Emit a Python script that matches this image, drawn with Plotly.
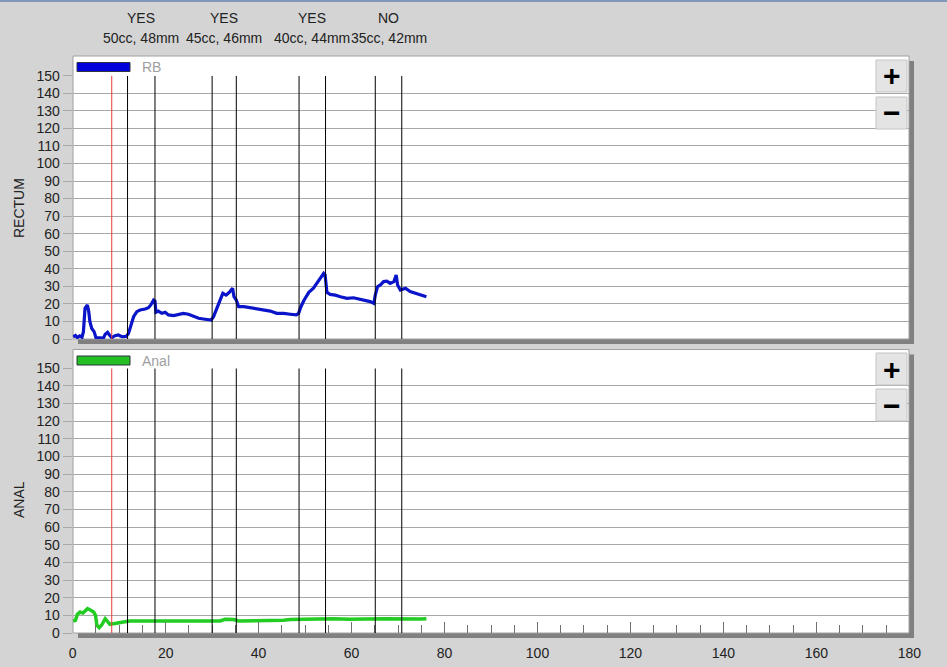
import plotly.graph_objects as go

W, H = 947, 667

# ---------------- data ----------------
rb_time = [0.1, 0.6, 1.0, 1.5, 2.0, 2.3, 2.65, 3.16, 3.45, 3.7, 4.1, 4.6, 5.0, 5.9, 6.6, 7.0, 7.5, 7.9,
           8.4, 9.1, 9.8, 10.6, 11.5, 12.0, 12.5, 13.1, 13.8, 14.5, 15.6, 16.3, 16.8, 17.4, 17.7, 17.9,
           18.4, 19.2, 19.9, 20.6, 21.7, 22.8, 23.8, 24.9, 26.0, 27.1, 28.1, 29.2, 29.8, 30.3, 30.9,
           31.6, 32.3, 33.0, 33.7, 34.4, 34.7, 35.2, 35.7, 36.8, 38.2, 39.6, 41.1, 42.5, 43.9, 45.4,
           46.8, 48.1, 48.6, 49.1, 49.8, 50.8, 51.8, 52.5, 53.3, 54.0, 54.3, 54.7, 55.4, 56.5, 57.6,
           59.0, 60.4, 61.9, 63.0, 64.0, 64.8, 65.1, 65.6, 66.2, 66.9, 67.6, 68.3, 69.1, 69.6, 69.9,
           70.5, 71.6, 72.6, 73.7, 74.8, 76.1]
rb_value = [1.3, 2.0, 0.8, 1.8, 1.0, 4.0, 17.5, 19.4, 15.6, 9.9, 6.0, 4.2, 0.8, 0.4, 0.5, 2.7, 3.8, 2.3,
            0.8, 1.9, 2.3, 1.3, 1.5, 3.2, 8.0, 12.7, 15.6, 16.5, 17.1, 17.8, 19.4, 22.2, 21.6, 15.2,
            15.9, 14.6, 15.2, 13.7, 13.3, 14.1, 14.6, 14.1, 12.7, 11.8, 11.4, 10.8, 10.8, 12.7, 16.5,
            21.3, 26.0, 25.0, 26.6, 28.9, 24.1, 22.2, 18.4, 18.4, 17.8, 17.1, 16.5, 15.9, 14.6, 14.6,
            14.1, 13.7, 14.6, 18.4, 22.2, 26.6, 28.9, 31.7, 34.9, 37.4, 36.5, 26.6, 25.4, 25.0, 24.1,
            23.2, 23.5, 22.6, 21.6, 21.3, 20.3, 25.0, 29.8, 30.8, 32.7, 33.0, 31.7, 32.7, 36.5, 30.8,
            27.9, 28.9, 27.0, 26.0, 25.0, 24.1]

anal_time = [0.1, 0.6, 1.0, 1.6, 2.2, 2.7, 3.2, 3.7, 4.5, 4.9, 5.2, 5.7, 6.2, 7.0, 7.5, 8.0, 8.8, 9.8,
             10.9, 12.3, 16.7, 23.8, 31.7, 32.8, 34.6, 35.7, 41.8, 45.4, 46.8, 50.4, 56.1, 59.7, 66.9,
             74.8, 76.1]
anal_value = [6.8, 7.2, 10.6, 11.9, 11.3, 12.9, 13.8, 13.2, 11.9, 10.0, 4.4, 3.0, 4.4, 8.1, 6.2, 4.9,
              5.3, 5.9, 6.2, 6.8, 6.8, 6.8, 6.8, 7.8, 7.6, 6.8, 6.8, 7.2, 7.6, 7.9, 8.1, 7.8, 8.1, 7.9, 8.1]

red_marker = 8.4
event_lines = [11.8, 17.7, 30.0, 35.2, 48.7, 54.4, 65.1, 70.8]
event_answer = ["YES", "YES", "YES", "NO"]
event_detail = ["50cc, 48mm", "45cc, 46mm", "40cc, 44mm", "35cc, 42mm"]

y_ticks = list(range(0, 151, 10))
x_ticks = list(range(0, 181, 20))

# ---------------- helpers ----------------
def px(x):
    return x / W

def py(y):
    return 1 - y / H

FONT = "Liberation Sans, Arial, sans-serif"
BG = "#d4d4d4"
GRID = "#a8a8a8"

fig = go.Figure()
fig.add_trace(go.Scatter(x=rb_time, y=rb_value, mode="lines", line=dict(color="#0a14c8", width=3.2),
                         xaxis="x", yaxis="y", showlegend=False, hoverinfo="skip"))
fig.add_trace(go.Scatter(x=anal_time, y=anal_value, mode="lines", line=dict(color="#22cc22", width=3.5),
                         xaxis="x2", yaxis="y2", showlegend=False, hoverinfo="skip"))

shapes = []
# window top strip
shapes.append(dict(type="rect", xref="paper", yref="paper", x0=0, x1=1, y0=py(2), y1=1,
                   fillcolor="#8098bb", line=dict(width=0), layer="below"))

panels = [(56, 339), (349.5, 633)]
for top, bot in panels:
    shapes.append(dict(type="rect", xref="paper", yref="paper", x0=px(78), x1=px(914), y0=py(bot + 5), y1=py(top + 5),
                       fillcolor="#808080", line=dict(width=0), layer="below"))
    shapes.append(dict(type="rect", xref="paper", yref="paper", x0=px(73), x1=px(909), y0=py(bot), y1=py(top),
                       fillcolor="white", line=dict(color="#a0a0a0", width=1), layer="below"))

# event lines in both panels
for xa, ya in [("x", "y"), ("x2", "y2")]:
    shapes.append(dict(type="line", xref=xa, yref=ya, x0=red_marker, x1=red_marker, y0=0, y1=150,
                       line=dict(color="#f03838", width=1), layer="above"))
    for t in event_lines:
        shapes.append(dict(type="line", xref=xa, yref=ya, x0=t, x1=t, y0=0, y1=150,
                           line=dict(color="black", width=1), layer="above"))

# legend swatches
legend_items = [("RB", "#0000dd", 62.5), ("Anal", "#22c022", 356)]
annotations = []
for name, col, ytop in legend_items:
    shapes.append(dict(type="rect", xref="paper", yref="paper", x0=px(77), x1=px(130), y0=py(ytop + 9), y1=py(ytop),
                       fillcolor=col, line=dict(color="#303040", width=1), layer="above"))
    annotations.append(dict(xref="paper", yref="paper", x=px(140), y=py(ytop + 4.5), text=name, showarrow=False,
                            xanchor="left", yanchor="middle", font=dict(family=FONT, size=14, color="#a0a0a0")))

# zoom buttons
for y_plus, y_minus in [(60, 97), (353, 389)]:
    for yb, sym in [(y_plus, "+"), (y_minus, "\u2212")]:
        shapes.append(dict(type="rect", xref="paper", yref="paper", x0=px(876), x1=px(907), y0=py(yb + 32), y1=py(yb),
                           fillcolor="#e4e4e4", line=dict(color="#c4c4c4", width=1), layer="above"))
        annotations.append(dict(xref="paper", yref="paper", x=px(891.5), y=py(yb + 16), text="<b>%s</b>" % sym,
                                showarrow=False, xanchor="center", yanchor="middle",
                                font=dict(family=FONT, size=30, color="black")))

# header labels
for i in range(len(event_answer)):
    mid = (event_lines[2 * i] + event_lines[2 * i + 1]) / 2
    annotations.append(dict(xref="x", yref="paper", x=mid, y=py(18), text=event_answer[i], showarrow=False,
                            xanchor="center", yanchor="middle", font=dict(family=FONT, size=14, color="#222")))
    annotations.append(dict(xref="x", yref="paper", x=mid, y=py(38), text=event_detail[i], showarrow=False,
                            xanchor="center", yanchor="middle", font=dict(family=FONT, size=14, color="#222")))

# axis titles
annotations.append(dict(xref="paper", yref="paper", x=px(19), y=py(208), text="RECTUM", textangle=-90,
                        xanchor="center", yanchor="middle",
                        showarrow=False, font=dict(family=FONT, size=14, color="#222")))
annotations.append(dict(xref="paper", yref="paper", x=px(19), y=py(500), text="ANAL", textangle=-90,
                        xanchor="center", yanchor="middle",
                        showarrow=False, font=dict(family=FONT, size=14, color="#222")))

xdom = [px(72.7), px(909.3)]
yax_common = dict(range=[0, 150], tickvals=y_ticks, ticks="outside", ticklen=9, tickcolor=GRID,
                  showgrid=True, gridcolor=GRID, gridwidth=1, zeroline=False, showline=False, automargin=False,
                  tickfont=dict(family=FONT, size=14, color="#222"), fixedrange=True)

fig.update_layout(
    template="none",
    width=W, height=H, margin=dict(l=0, r=0, t=0, b=0, pad=0, autoexpand=False),
    paper_bgcolor=BG, plot_bgcolor="rgba(0,0,0,0)",
    xaxis=dict(domain=xdom, range=[0, 180], anchor="y", showticklabels=False, ticks="", automargin=False,
               showgrid=False, zeroline=False, showline=False, fixedrange=True),
    yaxis=dict(domain=[py(339), py(75.7)], anchor="x", **yax_common),
    xaxis2=dict(domain=xdom, range=[0, 180], anchor="y2", tickvals=x_ticks, ticks="inside", ticklen=11,
                tickcolor="#707070", showgrid=False, zeroline=False, showline=False, automargin=False,
                minor=dict(ticks="inside", ticklen=8, tickcolor="#707070", dtick=5, tick0=0, showgrid=False),
                ticklabelstandoff=10,
                tickfont=dict(family=FONT, size=14, color="#222"), fixedrange=True),
    yaxis2=dict(domain=[py(633), py(368.3)], anchor="x2", **yax_common),
    shapes=shapes, annotations=annotations, showlegend=False,
)

fig.write_html("out.html", config={"displayModeBar": False},
               post_script="document.body.style.margin='0';document.body.style.overflow='hidden';")
